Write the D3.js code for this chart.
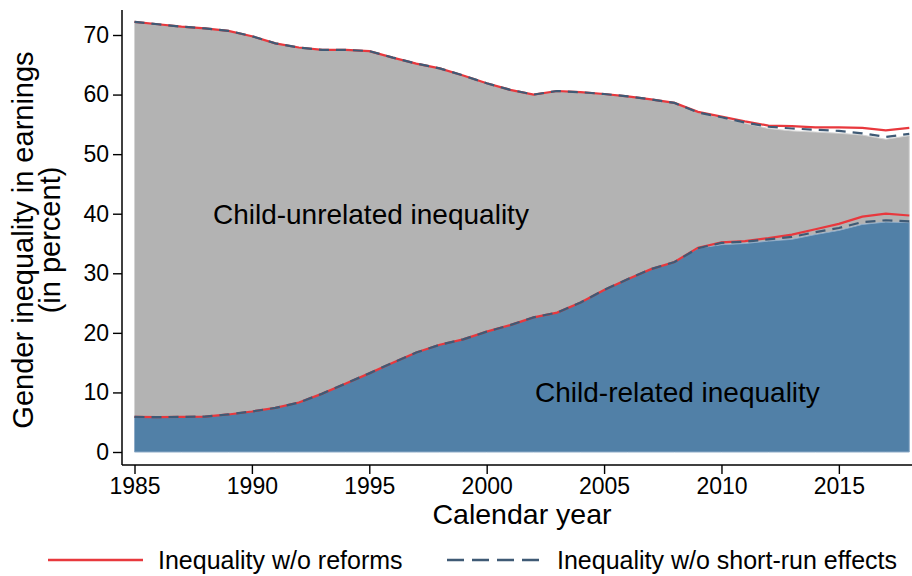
<!DOCTYPE html>
<html>
<head>
<meta charset="utf-8">
<script src="https://cdn.jsdelivr.net/npm/d3@7"></script>
<style>
  html, body { margin: 0; padding: 0; background: #fff; }
  svg { display: block; font-family: "Liberation Sans", Arial, sans-serif; }
</style>
</head>
<body>
<svg id="chart" width="912" height="576"></svg>
<script>
// Calendar years covered by the decomposition
const years = d3.range(1985, 2019);

// Observed gender inequality in earnings (percent): child-related part and total
const childRelated = [5.9, 5.85, 5.9, 5.95, 6.3, 6.8, 7.4, 8.3, 9.8, 11.5, 13.2, 15.0, 16.7, 18.0, 18.9, 20.2, 21.3, 22.6, 23.4, 25.1, 27.2, 29.0, 30.7, 31.9, 34.2, 34.8, 35.0, 35.4, 35.7, 36.5, 37.2, 38.2, 38.6, 38.5];
const totalGap = [72.2, 71.8, 71.4, 71.1, 70.7, 69.8, 68.6, 67.9, 67.5, 67.5, 67.3, 66.2, 65.2, 64.4, 63.2, 61.9, 60.8, 60.0, 60.6, 60.4, 60.1, 59.7, 59.2, 58.6, 57.0, 56.1, 55.2, 54.3, 53.9, 53.7, 53.5, 53.2, 52.5, 53.1];

// Counterfactual: without reforms
const childNoReforms = [5.9, 5.85, 5.9, 5.95, 6.3, 6.8, 7.4, 8.3, 9.8, 11.5, 13.2, 15.0, 16.7, 18.0, 18.9, 20.2, 21.3, 22.6, 23.4, 25.1, 27.2, 29.0, 30.7, 31.9, 34.3, 35.2, 35.4, 35.9, 36.5, 37.4, 38.3, 39.5, 40.0, 39.7];
const totalNoReforms = [72.2, 71.8, 71.4, 71.1, 70.7, 69.8, 68.6, 67.9, 67.5, 67.5, 67.3, 66.2, 65.2, 64.4, 63.2, 61.9, 60.8, 60.0, 60.6, 60.4, 60.1, 59.7, 59.2, 58.6, 57.1, 56.3, 55.5, 54.8, 54.7, 54.5, 54.5, 54.4, 54.0, 54.4];

// Counterfactual: without short-run effects
const childNoShortRun = [5.9, 5.85, 5.9, 5.95, 6.3, 6.8, 7.4, 8.3, 9.8, 11.5, 13.2, 15.0, 16.7, 18.0, 18.9, 20.2, 21.3, 22.6, 23.4, 25.1, 27.2, 29.0, 30.7, 31.9, 34.2, 35.1, 35.3, 35.7, 36.1, 36.9, 37.6, 38.6, 38.9, 38.7];
const totalNoShortRun = [72.2, 71.8, 71.4, 71.1, 70.7, 69.8, 68.6, 67.9, 67.5, 67.5, 67.3, 66.2, 65.2, 64.4, 63.2, 61.9, 60.8, 60.0, 60.6, 60.4, 60.1, 59.7, 59.2, 58.6, 57.0, 56.2, 55.3, 54.6, 54.3, 54.1, 53.9, 53.5, 52.9, 53.4];

const xTicks = [1985, 1990, 1995, 2000, 2005, 2010, 2015];
const yTicks = [0, 10, 20, 30, 40, 50, 60, 70];

const legendLabels = ["Inequality w/o reforms", "Inequality w/o short-run effects"];

const colors = {
  unrelated: "#b3b3b3",
  related: "#5180a7",
  relatedEdge: "#8eabc7",
  unrelatedEdge: "#d4d4d4",
  noReforms: "#e8383d",
  noShortRun: "#3f5a75"
};

const svg = d3.select("#chart");

// plot frame
const frame = { left: 122, top: 10, right: 912, axisY: 465 };

const x = d3.scaleLinear().domain([1985, 2018]).range([134.5, 909.3]);
const y = d3.scaleLinear().domain([0, 70]).range([452, 35]);

const rows = years.map((yr, i) => ({
  year: yr,
  child: childRelated[i],
  total: totalGap[i],
  childNR: childNoReforms[i],
  totalNR: totalNoReforms[i],
  childSR: childNoShortRun[i],
  totalSR: totalNoShortRun[i]
}));

// Child-unrelated band (between child-related share and total)
svg.append("path")
  .datum(rows)
  .attr("fill", colors.unrelated)
  .attr("stroke", colors.unrelatedEdge)
  .attr("stroke-width", 1)
  .attr("d", d3.area().x(d => x(d.year)).y0(d => y(d.child)).y1(d => y(d.total)));

// Child-related band (from zero)
svg.append("path")
  .datum(rows)
  .attr("fill", colors.related)
  .attr("stroke", colors.relatedEdge)
  .attr("stroke-width", 1)
  .attr("d", d3.area().x(d => x(d.year)).y0(y(0)).y1(d => y(d.child)));

const line = key => d3.line().x(d => x(d.year)).y(d => y(d[key]));

// Counterfactual lines
["childNR", "totalNR"].forEach(k => {
  svg.append("path").datum(rows)
    .attr("fill", "none")
    .attr("stroke", colors.noReforms)
    .attr("stroke-width", 2.2)
    .attr("d", line(k));
});
["childSR", "totalSR"].forEach(k => {
  svg.append("path").datum(rows)
    .attr("fill", "none")
    .attr("stroke", colors.noShortRun)
    .attr("stroke-width", 2.2)
    .attr("stroke-dasharray", "10,7")
    .attr("d", line(k));
});

// Area labels
svg.append("text")
  .attr("x", x(1988.34)).attr("y", y(38.3))
  .attr("font-size", 28).attr("fill", "#000")
  .text("Child-unrelated inequality");
svg.append("text")
  .attr("x", x(2002.06)).attr("y", y(8.4))
  .attr("font-size", 28).attr("fill", "#000")
  .text("Child-related inequality");

// Axes
const yAxis = svg.append("g")
  .attr("transform", `translate(${frame.left},0)`)
  .call(d3.axisLeft(y).tickValues(yTicks).tickSize(9).tickPadding(4));
const xAxis = svg.append("g")
  .attr("transform", `translate(0,${frame.axisY})`)
  .call(d3.axisBottom(x).tickValues(xTicks).tickFormat(d3.format("d")).tickSize(9).tickPadding(4));

[yAxis, xAxis].forEach(g => {
  g.select(".domain").remove();
  g.selectAll(".tick line").attr("stroke", "#000").attr("stroke-width", 1.4);
  g.selectAll(".tick text")
    .attr("fill", "#000")
    .attr("font-size", 23)
    .attr("font-family", "Liberation Sans, Arial, sans-serif");
});

svg.append("line")
  .attr("x1", frame.left).attr("x2", frame.left)
  .attr("y1", frame.top).attr("y2", frame.axisY)
  .attr("stroke", "#000").attr("stroke-width", 1.5);
svg.append("line")
  .attr("x1", frame.left).attr("x2", frame.right)
  .attr("y1", frame.axisY).attr("y2", frame.axisY)
  .attr("stroke", "#000").attr("stroke-width", 1.5);

// Axis titles
svg.append("text")
  .attr("x", 522).attr("y", 524)
  .attr("text-anchor", "middle")
  .attr("font-size", 28.5)
  .text("Calendar year");

const yTitle = svg.append("text")
  .attr("transform", "translate(0,240) rotate(-90)")
  .attr("text-anchor", "middle")
  .attr("font-size", 29);
yTitle.append("tspan").attr("x", 0).attr("y", 33).text("Gender inequality in earnings");
yTitle.append("tspan").attr("x", 0).attr("y", 60).text("(in percent)");

// Legend
const legend = svg.append("g");
const items = [
  { label: legendLabels[0], color: colors.noReforms, dash: null, x0: 48, x1: 143, tx: 158 },
  { label: legendLabels[1], color: colors.noShortRun, dash: "17,8", x0: 447, x1: 541, tx: 557 }
];
items.forEach(it => {
  legend.append("line")
    .attr("x1", it.x0).attr("x2", it.x1)
    .attr("y1", 560).attr("y2", 560)
    .attr("stroke", it.color).attr("stroke-width", 2.4)
    .attr("stroke-dasharray", it.dash);
  legend.append("text")
    .attr("x", it.tx).attr("y", 569)
    .attr("font-size", 25)
    .text(it.label);
});
</script>
</body>
</html>
